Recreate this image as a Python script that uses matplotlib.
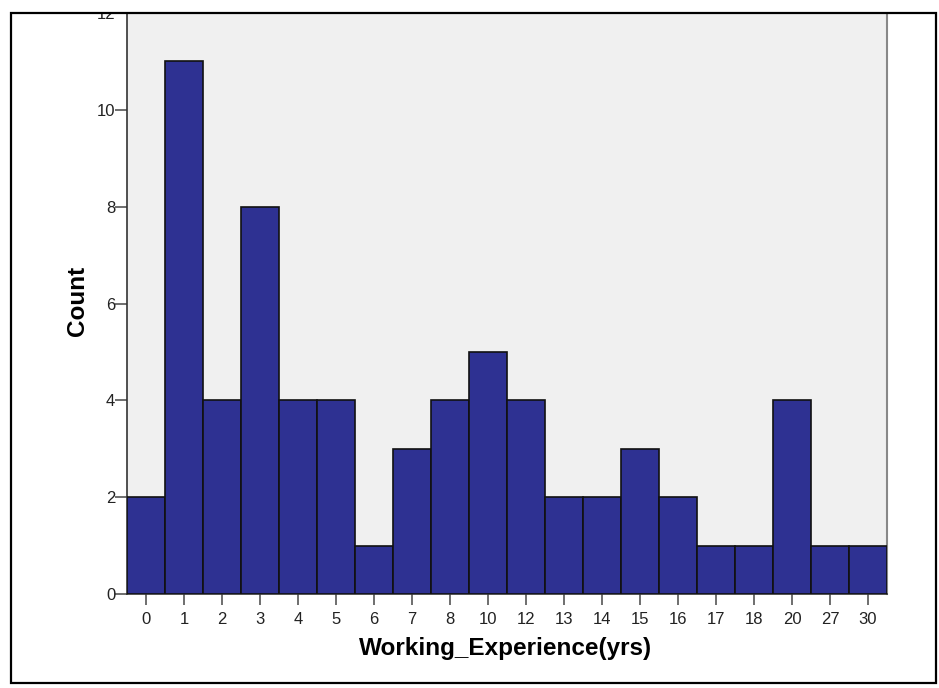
import matplotlib
matplotlib.use("Agg")
import matplotlib.pyplot as plt
from matplotlib.patches import Rectangle

categories = ["0", "1", "2", "3", "4", "5", "6", "7", "8", "10", "12", "13",
              "14", "15", "16", "17", "18", "20", "27", "30"]
counts = [2, 11, 4, 8, 4, 4, 1, 3, 4, 5, 4, 2, 2, 3, 2, 1, 1, 4, 1, 1]
y_ticks = [0, 2, 4, 6, 8, 10, 12]

plt.rcParams['font.family'] = ['Liberation Sans', 'DejaVu Sans']

W, H = 939, 688
fig = plt.figure(figsize=(W / 100, H / 100), dpi=100)
fig.patch.set_facecolor('white')

def fx(px):
    return px / W

def fy(py):
    return 1 - py / H

ax = fig.add_axes([fx(127), fy(594), fx(887) - fx(127), fy(13) - fy(594)])
ax.set_facecolor('#f0f0f0')

x = list(range(len(categories)))
ax.bar(x, counts, width=1.0, color='#2e3192', edgecolor='#111111', linewidth=1.2, zorder=3)

ax.set_xlim(-0.5, len(categories) - 0.5)
ax.set_ylim(0, 12)
ax.set_xticks(x)
ax.set_xticklabels(categories)
ax.set_yticks(y_ticks)

for s in ['left', 'bottom']:
    ax.spines[s].set_color('#333333')
    ax.spines[s].set_linewidth(1.2)
ax.spines['right'].set_color('#888888')
ax.spines['right'].set_linewidth(1.5)
ax.spines['top'].set_visible(False)

ax.tick_params(axis='x', length=8, width=1.2, color='#555555', pad=5,
               labelsize=12, labelcolor='#222222', direction='out')
ax.tick_params(axis='y', length=8.5, width=1.2, color='#555555', pad=0,
               labelsize=12, labelcolor='#222222', direction='out')

ax.set_xlabel('Working_Experience(yrs)', fontsize=17.5, fontweight='bold')
ax.set_ylabel('Count', fontsize=17.5, fontweight='bold')
ax.xaxis.set_label_coords(0.4987, (594 - 637) / 581)
ax.yaxis.set_label_coords((89 - 127) / 760, 0.504)

# white cover above the border (clips the top tick label like the original)
fig.patches.append(Rectangle((0, fy(13)), 1, 1 - fy(13), transform=fig.transFigure,
                             facecolor='white', edgecolor='none', zorder=10))
# outer border
fig.patches.append(Rectangle((fx(11), fy(683)), fx(936) - fx(11), fy(13) - fy(683),
                             transform=fig.transFigure, facecolor='none',
                             edgecolor='black', linewidth=1.6, zorder=11))

fig.savefig('out.png', dpi=100)
